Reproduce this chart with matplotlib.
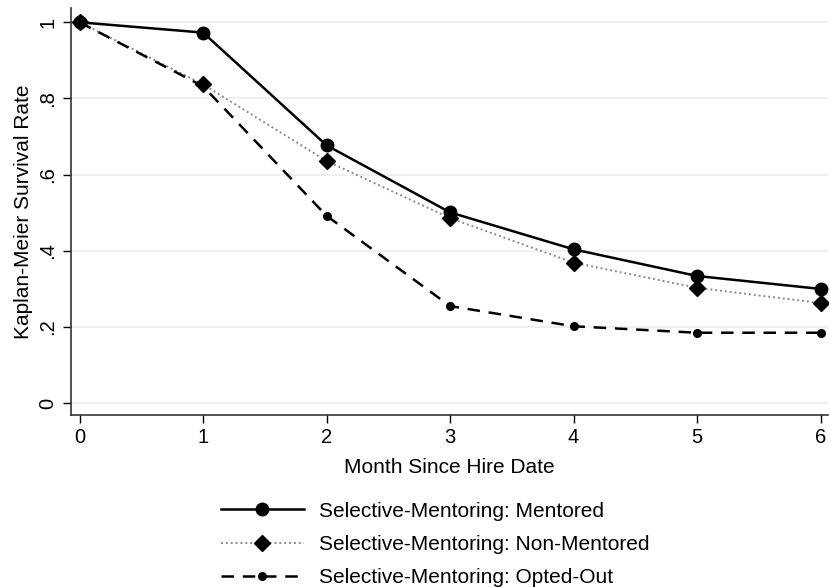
import matplotlib
matplotlib.use("Agg")
import matplotlib.pyplot as plt

plt.rcParams['font.family'] = ['Liberation Sans', 'DejaVu Sans']

months = [0, 1, 2, 3, 4, 5, 6]
mentored = [1.0, 0.973, 0.677, 0.501, 0.404, 0.334, 0.300]
non_mentored = [1.0, 0.837, 0.636, 0.486, 0.369, 0.303, 0.263]
opted_out = [1.0, 0.832, 0.492, 0.255, 0.202, 0.185, 0.185]
labels = ["Selective-Mentoring: Mentored",
          "Selective-Mentoring: Non-Mentored",
          "Selective-Mentoring: Opted-Out"]
yticks = [0, 0.2, 0.4, 0.6, 0.8, 1.0]
ytick_labels = ["0", ".2", ".4", ".6", ".8", "1"]

fig = plt.figure(figsize=(8.3, 5.87), dpi=100)
ax = fig.add_axes([0.0855, 0.293, 0.912, 0.693])

l1, = ax.plot(months, mentored, color='black', lw=1.8, ls='-', marker='o',
              markersize=9, zorder=4)
l2, = ax.plot(months, non_mentored, color='#8a8a8a', lw=1.4, ls=(0, (1, 1.5)),
              marker='D', markersize=8.5, markerfacecolor='black',
              markeredgecolor='black', zorder=3)
l3, = ax.plot(months, opted_out, color='black', lw=1.8, ls=(0, (5, 3.5)),
              marker='o', markersize=5.5, zorder=3)

ax.set_xlim(-0.07, 6.06)
ax.set_ylim(-0.031, 1.037)
ax.set_xticks(months)
ax.set_yticks(yticks)
ax.set_yticklabels(ytick_labels, rotation=90, va='center')
ax.tick_params(axis='both', labelsize=14.5, length=6, width=1, colors='black',
               direction='out')
ax.tick_params(axis='y', pad=4)
ax.grid(axis='y', color='#ececec', lw=1.2)
ax.set_axisbelow(True)
for s in ['top', 'right']:
    ax.spines[s].set_visible(False)
for s in ['left', 'bottom']:
    ax.spines[s].set_color('#333333')
    ax.spines[s].set_linewidth(1.2)

ax.set_xlabel("Month Since Hire Date", fontsize=15, labelpad=8)
ax.set_ylabel("Kaplan-Meier Survival Rate", fontsize=15, labelpad=4)

leg = fig.legend([l1, l2, l3], labels, loc='lower center',
                 bbox_to_anchor=(0.524, -0.032), frameon=False, fontsize=15,
                 handlelength=4.0, labelspacing=0.68, handletextpad=0.7)

fig.savefig("out.png", dpi=100)
